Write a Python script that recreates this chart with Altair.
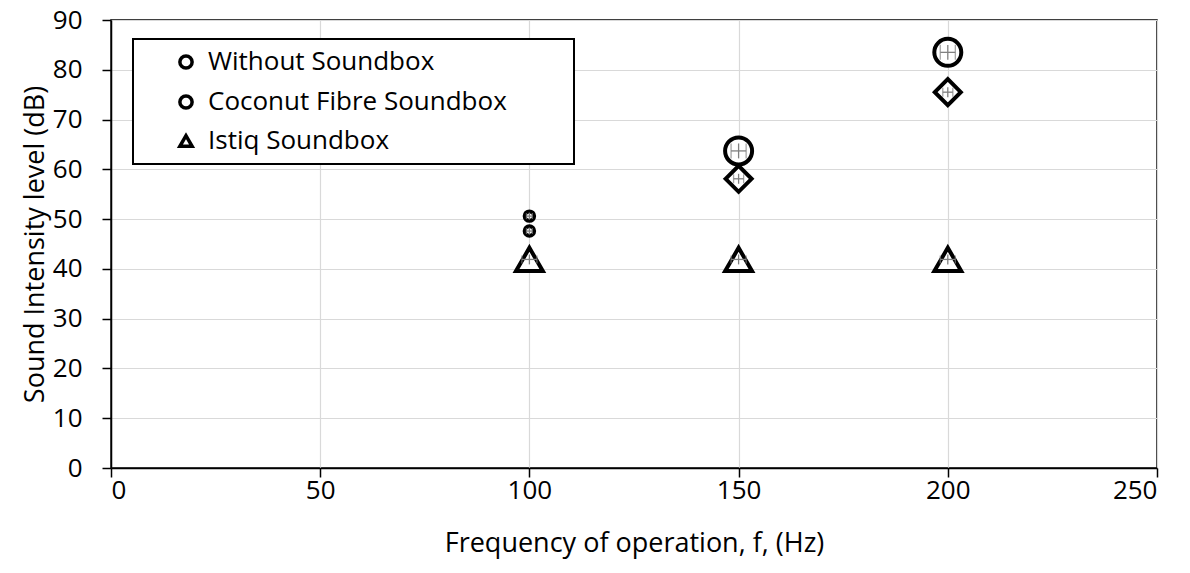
import altair as alt
import pandas as pd

series_names = ["Without Soundbox", "Coconut Fibre Soundbox", "Istiq Soundbox"]
freq = [100, 150, 200]
without_vals = [50.6, 63.7, 83.5]
coconut_vals = [47.6, 58.1, 75.5]
istiq_vals = [41.9, 41.9, 41.9]

# marker class per point: small circle, big circle, diamond, triangle
without_kind = ["small", "big", "big"]
coconut_kind = ["small", "diamond", "diamond"]
istiq_kind = ["tri", "tri", "tri"]

without_xerr = [0.7, 1.8, 1.8]
coconut_xerr = [0.7, 1.2, 1.2]
istiq_xerr = [1.8, 1.8, 1.8]
without_yerr = [0.7, 1.5, 1.5]
coconut_yerr = [0.7, 1.0, 1.0]
istiq_yerr = [1.0, 1.0, 1.0]
without_cap = [6, 15, 15]
coconut_cap = [6, 9, 9]
istiq_cap = [8, 8, 8]

rows = []
for name, vals, kd, xe, ye, cp in [
    (series_names[0], without_vals, without_kind, without_xerr, without_yerr, without_cap),
    (series_names[1], coconut_vals, coconut_kind, coconut_xerr, coconut_yerr, coconut_cap),
    (series_names[2], istiq_vals, istiq_kind, istiq_xerr, istiq_yerr, istiq_cap),
]:
    for f, v, k, a, b, c in zip(freq, vals, kd, xe, ye, cp):
        rows.append({"series": name, "f": f, "v": v, "kind": k,
                     "xlo": f - a, "xhi": f + a, "ylo": v - b, "yhi": v + b, "cap": c})
df = pd.DataFrame(rows)

caps = pd.concat([
    df.assign(cx=df["xlo"])[["cx", "v", "cap"]],
    df.assign(cx=df["xhi"])[["cx", "v", "cap"]],
])

FONT = "Open Sans"
GRAY = "#808080"
BLANK = "\u2800" * 3

x = alt.X("f:Q", scale=alt.Scale(domain=[0, 250], nice=False),
          axis=alt.Axis(values=[0, 50, 100, 150, 200, 250],
                        title="Frequency of operation, f, (Hz)"))
y = alt.Y("v:Q", scale=alt.Scale(domain=[0, 90], nice=False),
          axis=alt.Axis(values=list(range(0, 91, 10)),
                        title="Sound Intensity level (dB)"))

shape_enc = alt.Shape(
    "series:N",
    scale=alt.Scale(domain=series_names, range=["circle", "circle", "triangle-up"]),
    legend=alt.Legend(title=None, orient="none", legendX=22, legendY=19,
                      labelLimit=800, symbolOffset=30,
                      labelExpr="datum.label + '" + BLANK + "'"),
)

base = alt.Chart(df)
mk = dict(filled=False, color="black", fill="white", fillOpacity=1, strokeWidth=4, opacity=1)

small = base.transform_filter(alt.datum.kind == "small").mark_point(size=90, **mk).encode(
    x=x, y=y, shape=shape_enc)
big = base.transform_filter(alt.datum.kind == "big").mark_point(size=729, **mk).encode(
    x="f:Q", y="v:Q", shape=shape_enc)
tri = base.transform_filter(alt.datum.kind == "tri").mark_point(size=720, **mk).encode(
    x="f:Q", y="v:Q", shape=shape_enc)
dia = base.transform_filter(alt.datum.kind == "diamond").mark_point(
    size=676, shape="diamond", **mk).encode(x="f:Q", y="v:Q")

hbar = base.mark_rule(color=GRAY, strokeWidth=1.3).encode(x="xlo:Q", x2="xhi:Q", y="v:Q")
vbar = base.mark_rule(color=GRAY, strokeWidth=1.3).encode(x="f:Q", y="ylo:Q", y2="yhi:Q")
hcap = alt.Chart(caps).mark_tick(orient="vertical", color=GRAY, thickness=1.3).encode(
    x="cx:Q", y="v:Q", size=alt.Size("cap:Q", scale=None, legend=None))

chart = alt.layer(small, big, tri, dia, hbar, vbar, hcap).properties(
    width=1046, height=448,
    autosize=alt.AutoSizeParams(type="none"),
    padding={"left": 103, "top": 12, "right": 25, "bottom": 103},
).configure_view(
    stroke="black", strokeWidth=1.5
).configure_axis(
    domainColor="black", domainWidth=1.5, tickColor="black", tickWidth=1.5, tickSize=9,
    gridColor="#d9d9d9", gridWidth=1.2,
    labelFont=FONT, labelFontSize=26, labelColor="black",
    titleFont=FONT, titleFontSize=27, titleColor="black", titleFontWeight="normal",
).configure_axisX(
    labelPadding=0, titlePadding=27,
).configure_axisY(
    labelPadding=20, titlePadding=3,
).configure_legend(
    strokeColor="black", strokeWidth=2, fillColor="white", padding=10,
    labelFont=FONT, labelFontSize=26, labelColor="black",
    symbolSize=150, symbolStrokeWidth=3.5, labelOffset=9, rowPadding=12,
)

chart.save("out.html", embed_options={"renderer": "svg", "actions": False})
